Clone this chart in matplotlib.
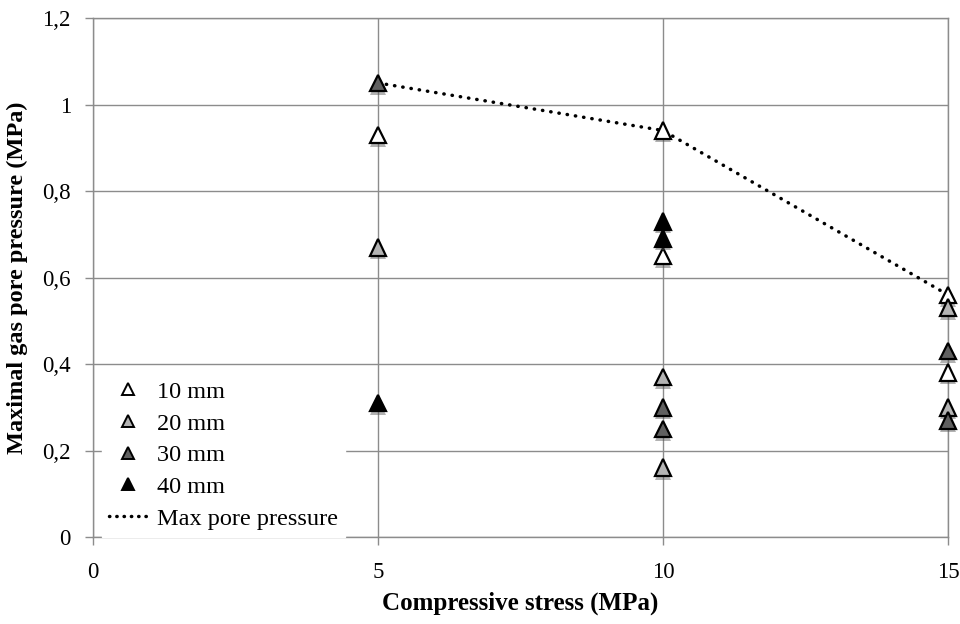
import matplotlib
matplotlib.use("Agg")
import matplotlib.pyplot as plt
import matplotlib.patheffects as pe
from matplotlib.ticker import FuncFormatter
from matplotlib.lines import Line2D

plt.rcParams['font.family'] = ['Liberation Serif', 'DejaVu Serif']

series_names = ["10 mm", "20 mm", "30 mm", "40 mm"]
x_10 = [5, 10, 10, 15, 15]
y_10 = [0.93, 0.94, 0.65, 0.56, 0.38]
x_20 = [5, 10, 10, 15, 15]
y_20 = [0.67, 0.37, 0.16, 0.53, 0.30]
x_30 = [5, 10, 10, 15, 15]
y_30 = [1.05, 0.30, 0.25, 0.43, 0.27]
x_40 = [5, 10, 10]
y_40 = [0.31, 0.73, 0.69]
max_x = [5, 10, 15]
max_y = [1.05, 0.94, 0.56]
max_name = "Max pore pressure"

fills = ["white", "#b4b4b4", "#606060", "black"]
xs = [x_10, x_20, x_30, x_40]
ys = [y_10, y_20, y_30, y_40]

fig = plt.figure(figsize=(9.6, 6.24), dpi=100)
ax = fig.add_axes([0.097, 0.1394, 0.8905, 0.8316])

grid_c = "#8c8c8c"
ax.set_xlim(0, 15)
ax.set_ylim(0, 1.2)
ax.set_xticks([0, 5, 10, 15])
ax.set_yticks([0, 0.2, 0.4, 0.6, 0.8, 1.0, 1.2])
ax.grid(True, color=grid_c, lw=1)
ax.set_axisbelow(True)
for s in ax.spines.values():
    s.set_color(grid_c)
    s.set_linewidth(1)

def fmt(v, pos):
    t = ("%.1f" % v).rstrip("0").rstrip(".")
    return t.replace(".", ",")
ax.yaxis.set_major_formatter(FuncFormatter(fmt))
ax.xaxis.set_major_formatter(FuncFormatter(lambda v, p: "%d" % v))
ax.tick_params(axis='both', length=6, width=1, color=grid_c, direction='out', labelsize=16.5)
ax.tick_params(axis='y', pad=10)
ax.tick_params(axis='x', pad=12)

shadow = [pe.SimplePatchShadow(offset=(0, -2.5), shadow_rgbFace="#555555", alpha=0.45), pe.Normal()]

ax.plot(max_x, max_y, color="black", lw=2.5, ls=(0, (0.1, 2.3)), dash_capstyle='round',
        zorder=3, clip_on=False)

for x, y, c in zip(xs, ys, fills):
    ax.plot(x, y, ls="none", marker="^", ms=12, mfc=c, mec="black", mew=1.6,
            zorder=4, clip_on=False, path_effects=shadow)

leg_handles = [Line2D([], [], ls="none", marker="^", ms=9, mfc=c, mec="black", mew=1.4)
               for c in fills]
leg_handles.append(Line2D([], [], color="black", lw=2.5, ls=(0, (0.1, 2.0)), dash_capstyle='round'))
leg = ax.legend(leg_handles, series_names + [max_name], loc="lower left",
                bbox_to_anchor=(0.0105, 0.0), borderaxespad=0, frameon=True, fancybox=False,
                framealpha=1, edgecolor="white", facecolor="white", fontsize=17.5,
                handlelength=1.5, handletextpad=0.45, labelspacing=0.4, borderpad=0.3)
leg.set_zorder(5)

ax.set_xlabel("Compressive stress (MPa)", fontsize=18, fontweight="bold", labelpad=6)
ax.set_ylabel("Maximal gas pore pressure (MPa)", fontsize=17.5, fontweight="bold", labelpad=10)

fig.savefig("out.png", dpi=100)
